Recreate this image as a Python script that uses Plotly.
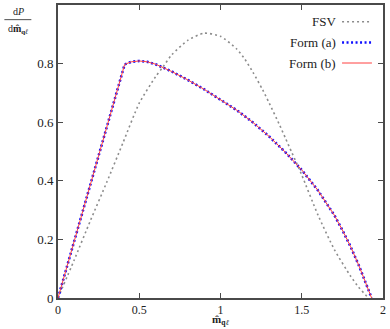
import plotly.graph_objects as go

# FSV curve
fsv_x = [0, 0.1, 0.2, 0.3, 0.4, 0.5, 0.6, 0.645, 0.7, 0.8, 0.9, 1.0, 1.1, 1.15, 1.2, 1.26,
         1.3, 1.364, 1.4, 1.436, 1.467, 1.5, 1.6, 1.7, 1.8, 1.85, 1.9, 1.91]
fsv_y = [0, 0.13, 0.265, 0.395, 0.53, 0.665, 0.755, 0.788, 0.83, 0.88, 0.904, 0.893, 0.85, 0.815,
         0.77, 0.71, 0.665, 0.59, 0.545, 0.5, 0.462, 0.42, 0.283, 0.166, 0.075, 0.037, 0.006, 0]

# Form curves (a) and (b) coincide
form_x = [0, 0.41, 0.45, 0.5, 0.55, 0.6, 0.7, 0.8, 0.9, 1.0, 1.1, 1.2, 1.3,
          1.4, 1.5, 1.6, 1.7, 1.75, 1.8, 1.85, 1.9, 1.93]
form_y = [0, 0.797, 0.806, 0.809, 0.806, 0.798, 0.773, 0.744, 0.712, 0.678, 0.641, 0.599, 0.551,
          0.497, 0.437, 0.367, 0.283, 0.232, 0.176, 0.113, 0.045, 0]

x_ticks = [0, 0.5, 1, 1.5, 2]
x_tick_labels = ["0", "0.5", "1", "1.5", "2"]
y_ticks = [0, 0.2, 0.4, 0.6, 0.8, 1]
y_tick_labels = ["0", "0.2", "0.4", "0.6", "0.8", "1"]

legend_names = ["FSV", "Form (a)", "Form (b)"]

FONT = "'Liberation Serif', 'Times New Roman', serif"

fsv_style = dict(color="#8c8c8c", width=1.6, dash="2px,3px")
a_style = dict(color="#1010ff", width=2.6, dash="2px,2.5px")
b_style = dict(color="#ff4040", width=1.0)

fig = go.Figure()
fig.add_trace(go.Scatter(x=fsv_x, y=fsv_y, mode="lines", name=legend_names[0],
                         line=dict(shape="spline", smoothing=0.6, **fsv_style)))
fig.add_trace(go.Scatter(x=form_x, y=form_y, mode="lines", name=legend_names[1],
                         line=a_style))
fig.add_trace(go.Scatter(x=form_x, y=form_y, mode="lines", name=legend_names[2],
                         line=b_style))

axis_common = dict(showline=True, linecolor="#4a4a4a", linewidth=1.6, mirror="ticks",
                   ticks="inside", ticklen=5, tickwidth=1.3, tickcolor="#4a4a4a",
                   showgrid=False, zeroline=False, automargin=False)

fig.update_layout(
    width=390, height=329,
    margin=dict(l=58, r=7, t=5, b=31),
    plot_bgcolor="white", paper_bgcolor="white",
    showlegend=False,
    xaxis=dict(range=[0, 2], tickvals=x_ticks, ticktext=x_tick_labels,
               tickfont=dict(family=FONT, size=12, color="#222"), **axis_common),
    yaxis=dict(range=[0, 1], tickvals=y_ticks, ticktext=y_tick_labels,
               tickfont=dict(family=FONT, size=13, color="#222"), **axis_common),
)

# Manual gnuplot-style legend (text on left, sample on right)
rows = [0.943, 0.872, 0.802]
for name, yy, st in zip(legend_names, rows, [fsv_style, a_style, b_style]):
    fig.add_annotation(xref="paper", yref="paper", x=0.862, y=yy, text=name,
                       showarrow=False, xanchor="right", yanchor="middle",
                       font=dict(family=FONT, size=13, color="#222"))
    fig.add_shape(type="line", xref="paper", yref="paper", x0=0.874, x1=0.966,
                  y0=yy, y1=yy, line=st)

# y-axis title as a fraction
fig.add_annotation(xref="paper", yref="paper", x=-0.123, y=0.952, text="d<i>P</i>",
                   showarrow=False, xanchor="center", yanchor="bottom",
                   font=dict(family=FONT, size=10, color="#222"))
fig.add_annotation(xref="paper", yref="paper", x=-0.123, y=0.947,
                   text="d<b>m&#770;</b><sub><b>q</b><i>ℓ</i></sub>",
                   showarrow=False, xanchor="center", yanchor="top",
                   font=dict(family=FONT, size=10, color="#222"))
fig.add_shape(type="line", xref="paper", yref="paper", x0=-0.165, x1=-0.082,
              y0=0.95, y1=0.95, line=dict(color="#222", width=0.8))

# x-axis title
fig.add_annotation(xref="paper", yref="paper", x=0.5, y=-0.106,
                   text="<b>m&#770;</b><sub><b>q</b><i>ℓ</i></sub>",
                   showarrow=False, xanchor="center", yanchor="bottom",
                   font=dict(family=FONT, size=11, color="#222"))

fig.write_html("out.html", config={"displayModeBar": False},
               post_script="document.body.style.margin='0';document.body.style.padding='0';")
